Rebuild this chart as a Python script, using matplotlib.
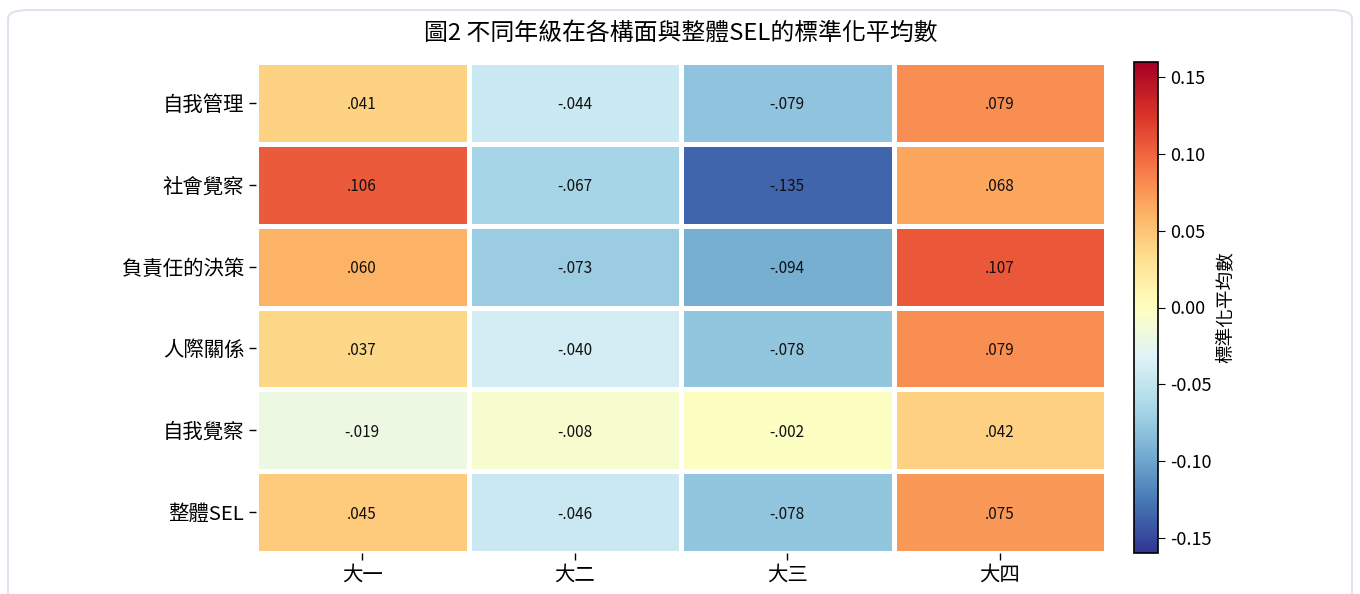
import numpy as np
import matplotlib.pyplot as plt
from matplotlib.patches import FancyBboxPatch

plt.rcParams['font.family'] = ['Noto Sans CJK TC', 'DejaVu Sans']
plt.rcParams['axes.unicode_minus'] = False

# 資料
grades = ['大一', '大二', '大三', '大四']
dims = ['自我管理', '社會覺察', '負責任的決策', '人際關係', '自我覺察', '整體SEL']
self_manage = [0.041, -0.044, -0.079, 0.079]
social_aware = [0.106, -0.067, -0.135, 0.068]
decision = [0.060, -0.073, -0.094, 0.107]
relation = [0.037, -0.040, -0.078, 0.079]
self_aware = [-0.019, -0.008, -0.002, 0.042]
overall = [0.045, -0.046, -0.078, 0.075]

data = np.array([self_manage, social_aware, decision, relation, self_aware, overall])

fig = plt.figure(figsize=(13.6, 5.94), dpi=100)

# 外框
border = FancyBboxPatch((8 / 1360, -0.05), 1344 / 1360, 1.05 - 10 / 594,
                        boxstyle='round,pad=0,rounding_size=0.015',
                        transform=fig.transFigure, facecolor='white',
                        edgecolor='#dde4ee', linewidth=1.5, zorder=-1)
fig.patches.append(border)

ax = fig.add_axes([256 / 1360, 1 - 553 / 594, 850 / 1360, 491 / 594])
cax = fig.add_axes([1134 / 1360, 1 - 553 / 594, 24 / 1360, 491 / 594])

mesh = ax.pcolormesh(data, cmap='RdYlBu_r', vmin=-0.16, vmax=0.16,
                     edgecolors='white', linewidth=2.5)
ax.set_xlim(0, 4)
ax.set_ylim(6, 0)
for s in ax.spines.values():
    s.set_visible(False)

for i in range(data.shape[0]):
    for j in range(data.shape[1]):
        v = data[i, j]
        txt = f'{v:.3f}'.replace('0.', '.', 1)
        ax.text(j + 0.5, i + 0.5, txt, ha='center', va='center_baseline',
                fontsize=11, color='#111111')

ax.set_xticks(np.arange(4) + 0.5)
ax.set_xticklabels(grades, fontsize=14.7)
ax.set_yticks(np.arange(6) + 0.5)
ax.set_yticklabels(dims, fontsize=14.7)
ax.tick_params(axis='both', length=5, width=1)

cb = fig.colorbar(mesh, cax=cax)
cb.set_ticks([0.15, 0.10, 0.05, 0.0, -0.05, -0.10, -0.15])
cb.ax.tick_params(labelsize=13, length=5)
cb.set_label('標準化平均數', fontsize=13.4)
cb.outline.set_linewidth(1.2)

fig.text(681 / 1360, 1 - 33 / 594, '圖2 不同年級在各構面與整體SEL的標準化平均數',
         ha='center', va='center', fontsize=17.2)

plt.savefig('out.png', dpi=100)
